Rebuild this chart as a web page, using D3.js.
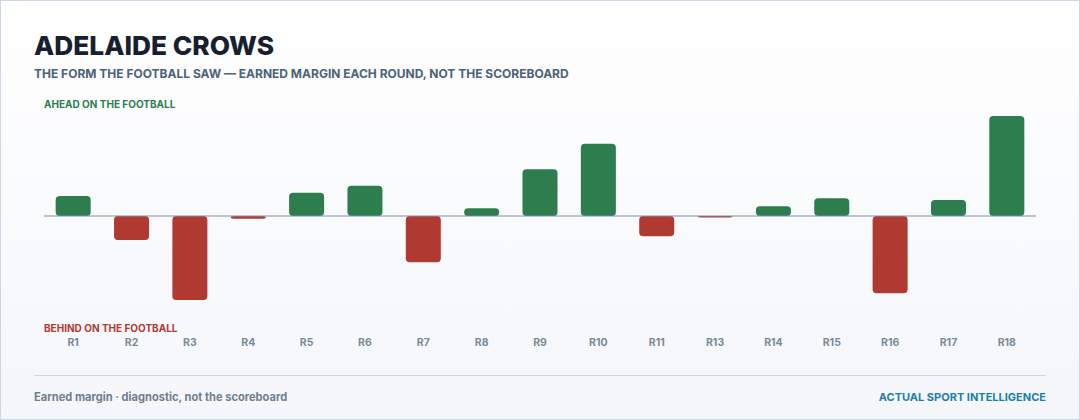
<!DOCTYPE html>
<html>
<head>
<meta charset="utf-8">
<script src="https://cdn.jsdelivr.net/npm/d3@7"></script>
<style>
  html, body { margin: 0; padding: 0; background: #ffffff; }
  svg { display: block; font-family: Inter, "Noto Sans", sans-serif; }
</style>
</head>
<body>
<svg id="chart" width="1080" height="420"></svg>
<script>
// earned margin per round (points)
const rounds = ["R1", "R2", "R3", "R4", "R5", "R6", "R7", "R8", "R9", "R10", "R11", "R13", "R14", "R15", "R16", "R17", "R18"];
const margins = [8, -9.6, -33.6, -1.1, 9.3, 12.1, -18.5, 3.1, 18.7, 28.9, -8.1, -0.6, 3.9, 7.1, -30.9, 6.4, 40];

const title = "ADELAIDE CROWS";
const subtitle = "THE FORM THE FOOTBALL SAW \u2014 EARNED MARGIN EACH ROUND, NOT THE SCOREBOARD";
const aheadLabel = "AHEAD ON THE FOOTBALL";
const behindLabel = "BEHIND ON THE FOOTBALL";
const footLeft = "Earned margin \u00b7 diagnostic, not the scoreboard";
const footRight = "ACTUAL SPORT INTELLIGENCE";

const W = 1080, H = 420;
const GREEN = "#2e7d4f", RED = "#b03a32";

const svg = d3.select("#chart");

const defs = svg.append("defs");
const grad = defs.append("linearGradient")
  .attr("id", "bg").attr("x1", 0).attr("y1", 0).attr("x2", 0).attr("y2", 1);
grad.append("stop").attr("offset", "0%").attr("stop-color", "#ffffff");
grad.append("stop").attr("offset", "100%").attr("stop-color", "#f4f6fa");

svg.append("rect")
  .attr("x", 0.5).attr("y", 0.5)
  .attr("width", W - 1).attr("height", H - 1)
  .attr("fill", "url(#bg)")
  .attr("stroke", "#c9d7e6")
  .attr("stroke-width", 1);

// headings
svg.append("text")
  .attr("x", 34).attr("y", 55)
  .attr("fill", "#17202e")
  .attr("font-size", "26.3px")
  .attr("font-weight", 800)
  .text(title);

svg.append("text")
  .attr("x", 34).attr("y", 77.5)
  .attr("fill", "#4b6279")
  .attr("font-size", "12px")
  .attr("font-weight", 700)
  .text(subtitle);

// scales
const x = d3.scaleBand()
  .domain(rounds)
  .range([44, 1036])
  .paddingInner(0.4)
  .paddingOuter(0.2);

const maxAbs = d3.max(margins, (d) => Math.abs(d));
const y = d3.scaleLinear()
  .domain([-maxAbs, maxAbs])
  .range([316, 116]);

const plot = svg.append("g").attr("class", "plot");

svg.append("text")
  .attr("x", 44).attr("y", 108)
  .attr("fill", GREEN)
  .attr("font-size", "10px")
  .attr("font-weight", 700)
  .text(aheadLabel);

svg.append("text")
  .attr("x", 44).attr("y", 331.5)
  .attr("fill", RED)
  .attr("font-size", "10px")
  .attr("font-weight", 700)
  .text(behindLabel);

// bars
const data = rounds.map((r, i) => ({ round: r, value: margins[i] }));

plot.selectAll("rect.bar")
  .data(data)
  .join("rect")
  .attr("class", "bar")
  .attr("x", (d) => x(d.round))
  .attr("width", x.bandwidth())
  .attr("y", (d) => Math.min(y(d.value), y(0)))
  .attr("height", (d) => Math.max(1.5, Math.abs(y(d.value) - y(0))))
  .attr("rx", 4).attr("ry", 4)
  .attr("fill", (d) => (d.value >= 0 ? GREEN : RED));

// zero line
plot.append("line")
  .attr("x1", 44).attr("x2", 1036)
  .attr("y1", y(0)).attr("y2", y(0))
  .attr("stroke", "#7d8fa3")
  .attr("stroke-width", 1);

// round labels
const xAxis = d3.axisBottom(x).tickSize(0).tickPadding(0);
const axisG = svg.append("g")
  .attr("transform", "translate(0,339)")
  .call(xAxis);
axisG.select(".domain").remove();
axisG.selectAll("text")
  .attr("fill", "#7a8a9c")
  .attr("font-size", "10.5px")
  .attr("font-weight", 700)
  .attr("font-family", "Inter, sans-serif");

// footer
svg.append("line")
  .attr("x1", 34).attr("x2", 1046)
  .attr("y1", 375.5).attr("y2", 375.5)
  .attr("stroke", "#c9d7e6")
  .attr("stroke-width", 1);

svg.append("text")
  .attr("x", 34).attr("y", 401)
  .attr("fill", "#6f7f91")
  .attr("font-size", "11.1px")
  .attr("font-weight", 700)
  .text(footLeft);

svg.append("text")
  .attr("x", 1046).attr("y", 401)
  .attr("text-anchor", "end")
  .attr("fill", "#1c7fa6")
  .attr("font-size", "11px")
  .attr("font-weight", 700)
  .text(footRight);
</script>
</body>
</html>
